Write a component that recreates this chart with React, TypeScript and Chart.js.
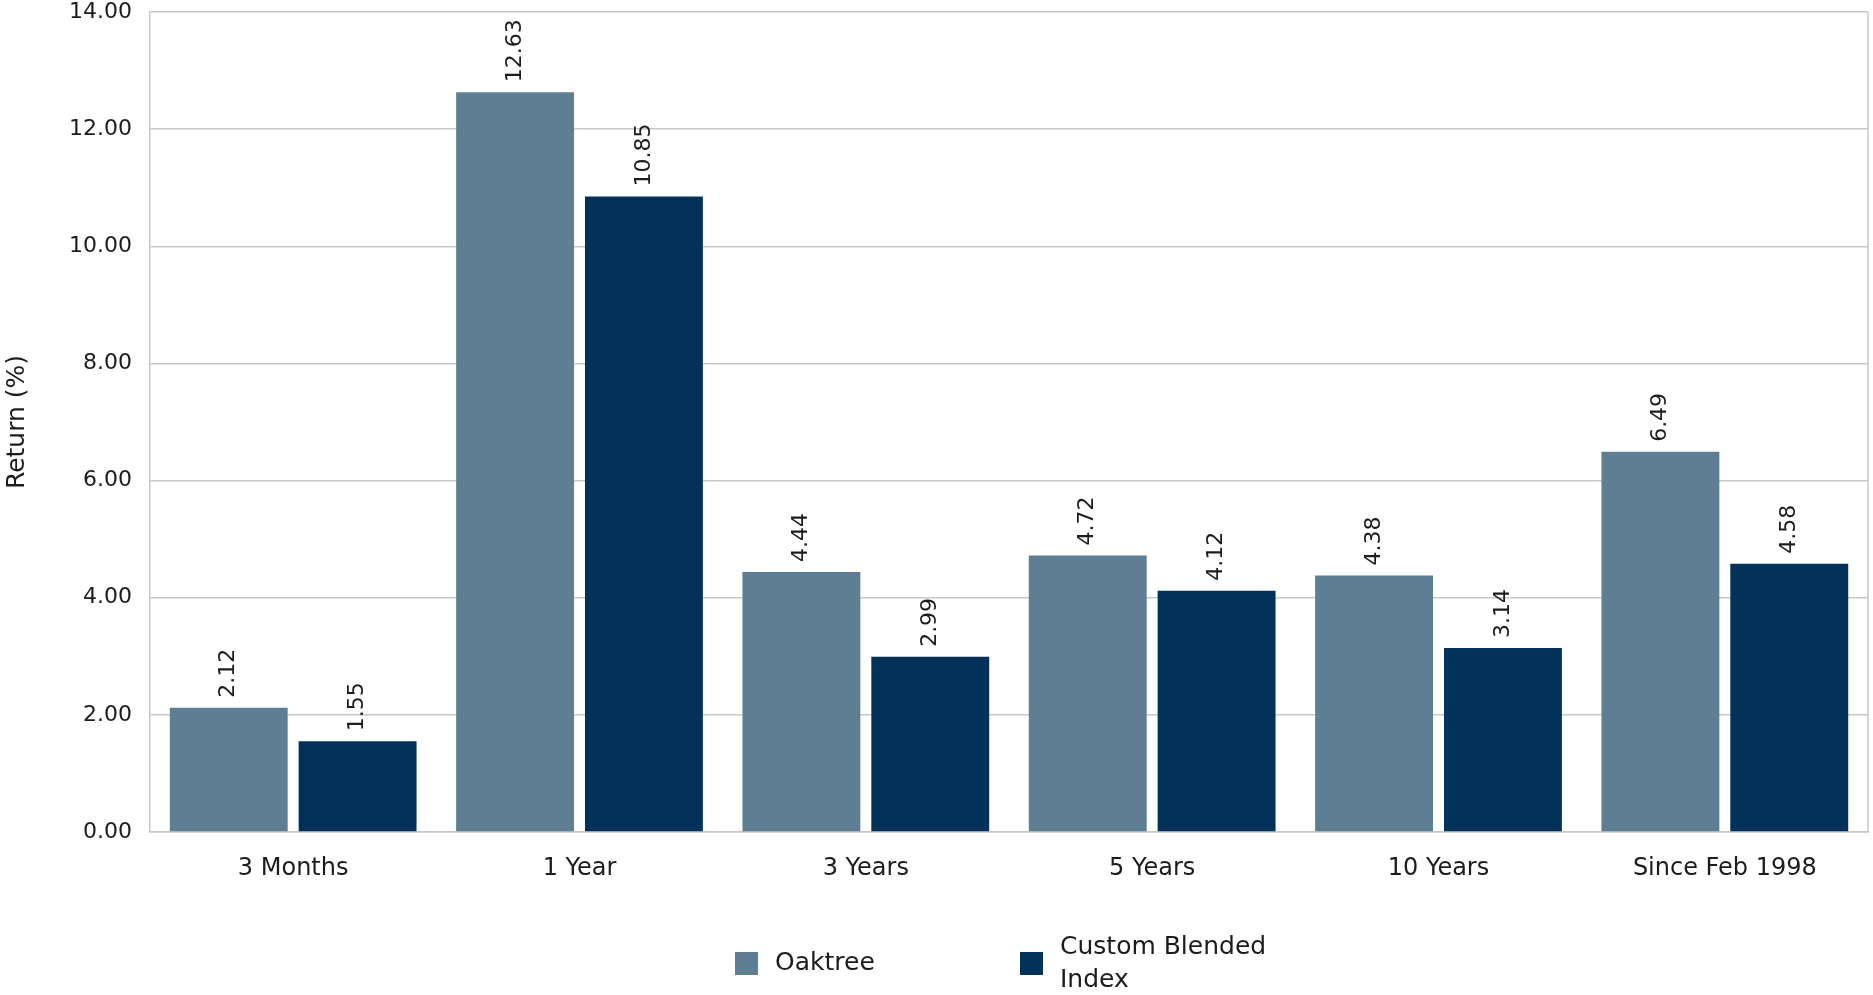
import React, { useEffect, useRef } from "react";
import { Chart, registerables } from "chart.js";

Chart.register(...registerables);

const categories = ["3 Months", "1 Year", "3 Years", "5 Years", "10 Years", "Since Feb 1998"];
const oaktreeValues = [2.12, 12.63, 4.44, 4.72, 4.38, 6.49];
const blendedValues = [1.55, 10.85, 2.99, 4.12, 3.14, 4.58];
const seriesNames = ["Oaktree", "Custom Blended Index"];
const legendLines = [["Oaktree"], ["Custom Blended", "Index"]];
const yTitle = "Return (%)";

const COLORS = ["#5E7F93", "#02325A"];
const FONT = "'DejaVu Sans', sans-serif";
const TEXT = "#1c1c1c";
const GRID = "#c8c8c8";

const decorPlugin = {
  id: "decor",
  afterDatasetsDraw(chart: any) {
    const { ctx, chartArea } = chart;
    ctx.save();
    // right frame line
    ctx.strokeStyle = GRID;
    ctx.lineWidth = 1.5;
    ctx.beginPath();
    ctx.moveTo(chartArea.right, chartArea.top);
    ctx.lineTo(chartArea.right, chartArea.bottom);
    ctx.stroke();

    // rotated value labels above each bar
    ctx.fillStyle = TEXT;
    ctx.font = `22px ${FONT}`;
    ctx.textAlign = "left";
    ctx.textBaseline = "middle";
    chart.data.datasets.forEach((ds: any, di: number) => {
      const meta = chart.getDatasetMeta(di);
      meta.data.forEach((bar: any, i: number) => {
        const v = ds.data[i] as number;
        ctx.save();
        ctx.translate(bar.x, bar.y - 10);
        ctx.rotate(-Math.PI / 2);
        ctx.fillText(v.toFixed(2), 0, 0);
        ctx.restore();
      });
    });

    // y axis title
    ctx.save();
    ctx.font = `25px ${FONT}`;
    ctx.translate(17, (chartArea.top + chartArea.bottom) / 2);
    ctx.rotate(-Math.PI / 2);
    ctx.textAlign = "center";
    ctx.textBaseline = "middle";
    ctx.fillText(yTitle, 0, 0);
    ctx.restore();

    // legend
    ctx.font = `25px ${FONT}`;
    const boxX = [735, 1020];
    const boxY = 952;
    const box = 23;
    legendLines.forEach((lines, i) => {
      ctx.fillStyle = COLORS[i];
      ctx.fillRect(boxX[i], boxY, box, box);
      ctx.fillStyle = TEXT;
      ctx.textAlign = "left";
      ctx.textBaseline = "middle";
      const cy = boxY + box / 2;
      const lh = 33;
      const start = cy - ((lines.length - 1) * lh) / 2;
      lines.forEach((line, li) => {
        ctx.fillText(line, boxX[i] + 40, start + li * lh);
      });
    });
    ctx.restore();
  },
};

export default function App() {
  const canvasRef = useRef<HTMLCanvasElement | null>(null);

  useEffect(() => {
    document.body.style.margin = "0";
    const canvas = canvasRef.current;
    if (!canvas) return;
    const chart = new Chart(canvas, {
      type: "bar",
      data: {
        labels: categories,
        datasets: [
          {
            label: seriesNames[0],
            data: oaktreeValues,
            backgroundColor: COLORS[0],
            categoryPercentage: 0.9,
            barPercentage: 0.915,
          },
          {
            label: seriesNames[1],
            data: blendedValues,
            backgroundColor: COLORS[1],
            categoryPercentage: 0.9,
            barPercentage: 0.915,
          },
        ],
      },
      options: {
        responsive: false,
        animation: false,
        layout: { padding: { left: 0, right: 5, top: 12, bottom: 0 } },
        plugins: {
          legend: { display: false },
          tooltip: { enabled: false },
        },
        scales: {
          x: {
            grid: { display: false, drawTicks: false },
            border: { display: true, color: GRID, width: 1.5 },
            ticks: {
              color: TEXT,
              font: { family: FONT, size: 24 },
              padding: 22,
              maxRotation: 0,
            },
            afterFit(scale: any) {
              scale.height = 163;
            },
          },
          y: {
            min: 0,
            max: 14,
            grid: { color: GRID, lineWidth: 1.5, drawTicks: false },
            border: { display: true, color: GRID, width: 1.5 },
            ticks: {
              stepSize: 2,
              color: TEXT,
              font: { family: FONT, size: 22 },
              padding: 18,
              callback: (v: any) => Number(v).toFixed(2),
            },
            afterFit(scale: any) {
              scale.width = 150;
              scale.paddingTop = 0;
              scale.paddingBottom = 0;
            },
          },
        },
      },
      plugins: [decorPlugin],
    });
    return () => chart.destroy();
  }, []);

  return (
    <div style={{ width: 1873, height: 995, background: "#fff" }}>
      <canvas ref={canvasRef} width={1873} height={995} style={{ display: "block" }} />
    </div>
  );
}
